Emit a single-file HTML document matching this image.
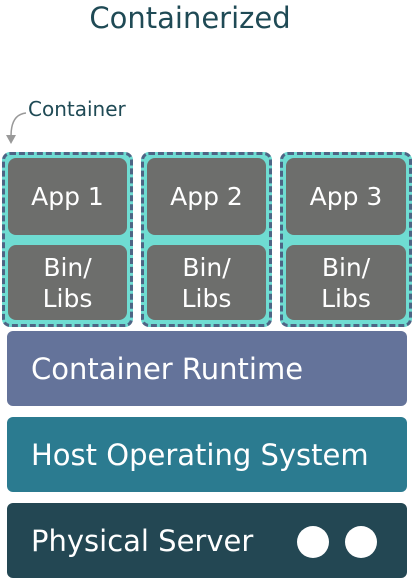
<!DOCTYPE html>
<html><head><style>
body{margin:0;width:414px;height:579px;background:#fff;position:relative;overflow:hidden;font-family:"DejaVu Sans","Liberation Sans",sans-serif;}
.a{position:absolute;box-sizing:border-box}
.t{color:#fff;display:flex;align-items:center;justify-content:center;text-align:center}
.c{background:#6fdcd2;border:3px dashed #4d6585;border-radius:8px}
.g{background:#6d6e6c;border-radius:8px;font-size:25px;line-height:31px}
.bar{border-radius:6px;font-size:29px;color:#fff;padding-left:24px;display:flex;align-items:center;left:7px;width:400px;height:75px}
</style></head><body>
<div class="a" style="left:0;width:380px;top:1px;text-align:center;font-size:29px;color:#1f4a55">Containerized</div>
<div class="a" style="left:28px;top:97px;font-size:20px;color:#1f4a55">Container</div>
<svg class="a" style="left:0;top:100px" width="40" height="50"><path d="M26,13 C16,14 11,22 11,36" fill="none" stroke="#999" stroke-width="1.5"/><path d="M6,35 L16,35 L11,44 Z" fill="#999"/></svg>

<div class="a c" style="left:2px;top:152px;width:131px;height:175px"></div>
<div class="a c" style="left:141px;top:152px;width:131px;height:175px"></div>
<div class="a c" style="left:280px;top:152px;width:132px;height:175px"></div>

<div class="a g t" style="left:8px;top:158px;width:119px;height:77px">App 1</div>
<div class="a g t" style="left:8px;top:245px;width:119px;height:75px">Bin/<br>Libs</div>
<div class="a g t" style="left:147px;top:158px;width:119px;height:77px">App 2</div>
<div class="a g t" style="left:147px;top:245px;width:119px;height:75px">Bin/<br>Libs</div>
<div class="a g t" style="left:286px;top:158px;width:120px;height:77px">App 3</div>
<div class="a g t" style="left:286px;top:245px;width:120px;height:75px">Bin/<br>Libs</div>

<div class="a bar" style="top:331px;background:#64739a">Container Runtime</div>
<div class="a bar" style="top:417px;background:#2b7b90">Host Operating System</div>
<div class="a bar" style="top:503px;background:#234753">Physical Server</div>
<div class="a" style="left:297px;top:526px;width:32px;height:32px;border-radius:50%;background:#fff"></div>
<div class="a" style="left:345px;top:526px;width:32px;height:32px;border-radius:50%;background:#fff"></div>
</body></html>
